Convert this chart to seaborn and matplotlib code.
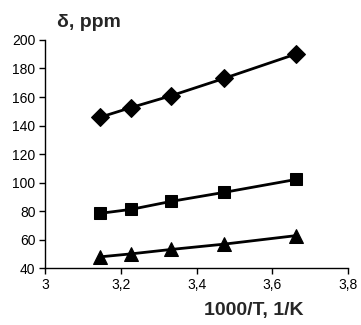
import pandas as pd
import matplotlib
matplotlib.use('Agg')
import matplotlib.pyplot as plt
import seaborn as sns
from matplotlib.ticker import FuncFormatter

inv_t = [3.145, 3.227, 3.333, 3.472, 3.663]
delta_top = [145.8, 152.6, 160.9, 173.0, 190.2]
delta_mid = [78.4, 81.2, 86.8, 93.1, 102.2]
delta_low = [47.9, 50.0, 53.1, 56.8, 62.8]

series = [('top', delta_top, 'D', 9), ('mid', delta_mid, 's', 8), ('low', delta_low, '^', 10)]

sns.set_theme(style='ticks')
plt.rcParams['font.family'] = ['Liberation Sans', 'DejaVu Sans']

fig = plt.figure(figsize=(3.61, 3.25), dpi=100)
ax = fig.add_axes([0.125, 0.175, 0.839, 0.702])

for name, vals, mk, ms in series:
    df = pd.DataFrame({'x': inv_t, 'y': vals})
    sns.lineplot(data=df, x='x', y='y', ax=ax, color='black', linewidth=2,
                 marker=mk, markersize=ms, markeredgecolor='black', markerfacecolor='black')

ax.set_xlim(3, 3.8)
ax.set_ylim(40, 200)
ax.set_xticks([3, 3.2, 3.4, 3.6, 3.8])
ax.set_yticks(range(40, 201, 20))
ax.xaxis.set_major_formatter(FuncFormatter(lambda v, p: ('%g' % round(v, 1)).replace('.', ',')))
ax.tick_params(labelsize=10, length=4, width=1, color='black', labelcolor='black', pad=3)
ax.set_xlabel('')
ax.set_ylabel('')
for s in ['top', 'right']:
    ax.spines[s].set_visible(False)
for s in ['left', 'bottom']:
    ax.spines[s].set_color('black')
    ax.spines[s].set_linewidth(1)

fig.text(0.245, 0.93, 'δ, ppm', fontsize=14, fontweight='bold', ha='center', va='center')
fig.text(0.703, 0.045, '1000/T, 1/K', fontsize=14, fontweight='bold', ha='center', va='center')

fig.savefig('out.png', dpi=100)
